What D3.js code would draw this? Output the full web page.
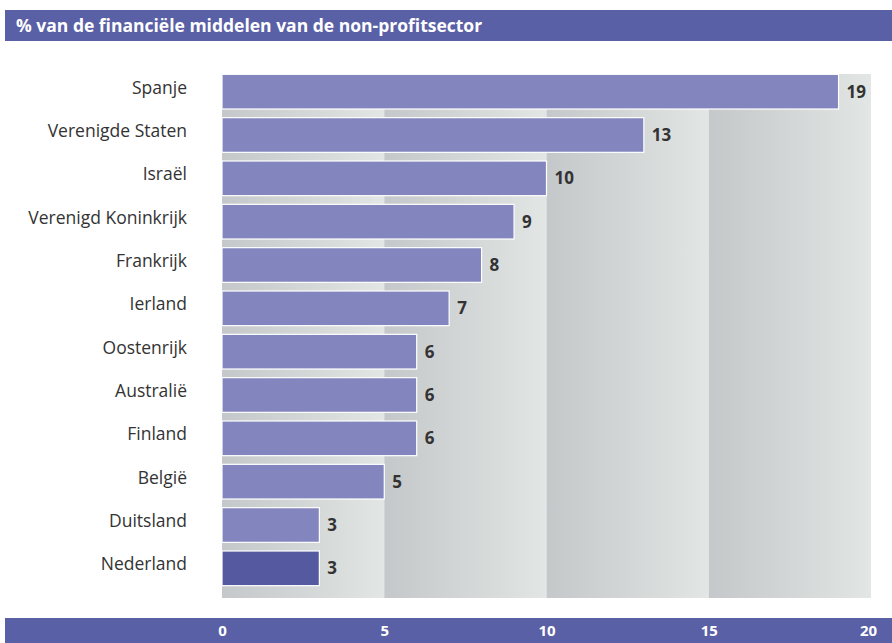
<!DOCTYPE html>
<html><head><meta charset="utf-8">
<script src="https://cdn.jsdelivr.net/npm/d3@7"></script>
<style>body{margin:0;background:#fff}svg{display:block}</style>
</head><body>
<svg id="c" width="892" height="643"></svg>
<script>
const categories = ["Spanje","Verenigde Staten","Israël","Verenigd Koninkrijk","Frankrijk","Ierland","Oostenrijk","Australië","Finland","België","Duitsland","Nederland"];
const values = [19,13,10,9,8,7,6,6,6,5,3,3];
const tickValues = [0,5,10,15,20];
const title = "% van de financiële middelen van de non-profitsector";

const svg = d3.select("#c");
const font = "'Open Sans', sans-serif";
const x = d3.scaleLinear().domain([0,20]).range([222,871]);
const y = d3.scaleBand().domain(categories).range([70,590]).paddingInner(0.2).paddingOuter(0.1);

const defs = svg.append("defs");
const g = defs.append("linearGradient").attr("id","band").attr("x1","0").attr("x2","1");
g.append("stop").attr("offset","0").attr("stop-color","#c5c8ca");
g.append("stop").attr("offset","0.7").attr("stop-color","#d8dcdb");
g.append("stop").attr("offset","1").attr("stop-color","#e2e6e5");

// header
svg.append("rect").attr("x",5).attr("y",10).attr("width",887).attr("height",31).attr("fill","#5a60a5");
svg.append("text").attr("x",16).attr("y",32).attr("fill","#fff").attr("font-family",font)
  .attr("font-weight",700).attr("font-size",17.5).text(title);

// background bands
svg.append("g").selectAll("rect").data(tickValues.slice(0,-1)).join("rect")
  .attr("x",d=>x(d)).attr("width",d=>x(d+5)-x(d))
  .attr("y",74).attr("height",524).attr("fill","url(#band)");

// bars
svg.append("g").selectAll("rect").data(values).join("rect")
  .attr("x",x(0)).attr("y",(d,i)=>y(categories[i]))
  .attr("width",d=>x(d)-x(0)).attr("height",y.bandwidth())
  .attr("fill",(d,i)=>categories[i]==="Nederland"?"#5459a0":"#8385be")
  .attr("stroke","#fff").attr("stroke-width",1.2);

// value labels
svg.append("g").selectAll("text").data(values).join("text")
  .attr("x",d=>x(d)+8).attr("y",(d,i)=>y(categories[i])+y.bandwidth()/2+6)
  .attr("font-family",font).attr("font-weight",700).attr("font-size",17).attr("fill","#333")
  .text(d=>d);

// category labels
svg.append("g").selectAll("text").data(categories).join("text")
  .attr("x",187).attr("y",d=>y(d)+y.bandwidth()/2+2).attr("text-anchor","end")
  .attr("font-family",font).attr("font-size",17.5).attr("fill","#333")
  .text(d=>d);

// bottom axis bar
svg.append("rect").attr("x",5).attr("y",618).attr("width",887).attr("height",25).attr("fill","#5a60a5");
const ax = svg.append("g").attr("transform","translate(0,618)").call(d3.axisBottom(x).tickValues(tickValues).tickSize(0).tickPadding(0));
ax.select(".domain").remove();
ax.selectAll("text").attr("font-family",font).attr("font-weight",700).attr("font-size",15).attr("fill","#fff").attr("dy","18").attr("y",0);
ax.selectAll(".tick").filter(d=>d===20).select("text").attr("dx","-3");
</script>
</body></html>
